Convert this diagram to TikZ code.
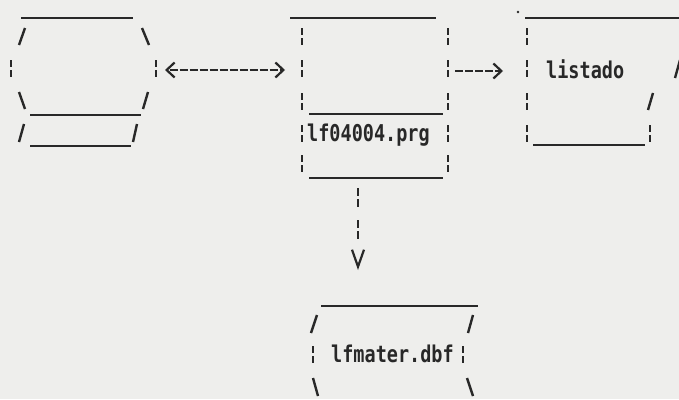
\documentclass[tikz,border=0pt]{standalone}
\usepackage{fontspec}
\usetikzlibrary{arrows.meta}
\newfontfamily\dotmatrix{DejaVu Sans Mono}
\definecolor{paper}{RGB}{238,238,236}
\definecolor{ink}{RGB}{40,40,40}
\newcommand\tall[1]{\scalebox{1}[1.25]{#1}}
\tikzset{
	stroke/.style={ink, line width=2.4pt},
	vbar/.style={ink, line width=2pt, dash pattern=on 7pt off 3pt},
	flow/.style={ink, line width=2.4pt, dash pattern=on 8pt off 2pt, dash phase=8pt},
	vflow/.style={ink, line width=2pt, dash pattern=on 8pt off 3pt on 8pt off 13pt on 8pt off 3pt on 8pt off 60pt},
	fname/.style={ink, font=\dotmatrix\bfseries\fontsize{18.5}{18.5}\selectfont, inner sep=0pt, anchor=base west},
	barb/.tip={Straight Barb[length=8pt,width=15pt,line width=2.2pt]}
}

\begin{document}
\begin{tikzpicture}[x=1pt,y=-1pt]
		\clip (0,0) rectangle (679,399);
		\fill[paper] (0,0) rectangle (679,399);
		
		% pantalla
		\draw[stroke] (21,18) -- (133,18);
		\draw[stroke] (19,45) -- (25,28);
		\draw[stroke] (142,28) -- (149,45);
		\draw[vbar] (11,60) -- (11,78);
		\draw[vbar] (156,60) -- (156,78);
		\draw[stroke] (19,92) -- (25,109);
		\draw[stroke] (148,92) -- (143,109);
		\draw[stroke] (30,115) -- (141,115);
		\draw[stroke] (24,124) -- (19,142);
		\draw[stroke] (137,124) -- (133,142);
		\draw[stroke] (30,146) -- (131,146);
		
		% programa
		\draw[stroke] (290,18) -- (436,18);
		\foreach \y in {28,60,93,125,155} {
			\draw[vbar] (302,\y) -- ++(0,17);
			\draw[vbar] (448,\y) -- ++(0,17);
		}
		\draw[stroke] (309,114) -- (443,114);
		\node[fname] (prg) at (307,141) {\tall{lf04004.prg}};
		\draw[stroke] (309,178) -- (443,178);
		
		% listado
		\fill[ink] (518,12) circle (1.4);
		\draw[stroke] (525,18) -- (679,18);
		\foreach \y in {28,60,93,125}
			\draw[vbar] (527,\y) -- ++(0,17);
		\node[fname] (lst) at (546,78) {\tall{listado}};
		\draw[stroke] (675,78) -- (680,60);
		\draw[stroke] (653,93) -- (648,110);
		\draw[vbar] (650,125) -- (650,142);
		\draw[stroke] (533,145) -- (645,145);
		
		% fichero
		\draw[stroke] (321,306) -- (478,306);
		\draw[stroke] (317,315) -- (311,333);
		\draw[stroke] (473,315) -- (468,333);
		\draw[vbar] (313,346) -- (313,363);
		\draw[vbar] (463,346) -- (463,363);
		\node[fname] (dbf) at (331,362) {\tall{lfmater.dbf}};
		\draw[stroke] (313,378) -- (318,396);
		\draw[stroke] (467,378) -- (473,396);
		
		% flechas
		\coordinate (scrR) at (156,70);
		\coordinate (prgL) at (302,70);
		\coordinate (prgR) at (448,71);
		\coordinate (lstL) at (527,71);
		\coordinate (prgB) at (358,188);
		\coordinate (dbfT) at (358,270);
		\draw[flow, barb-barb, shorten <=9pt, shorten >=17pt] (scrR) -- (prgL);
		\draw[flow, -barb, shorten <=5pt, shorten >=24pt] (prgR) -- (lstL);
		\draw[vflow, -{Straight Barb[length=17pt,width=12pt,line width=2.2pt]}] (prgB) -- (dbfT);
	\end{tikzpicture}
\end{document}
